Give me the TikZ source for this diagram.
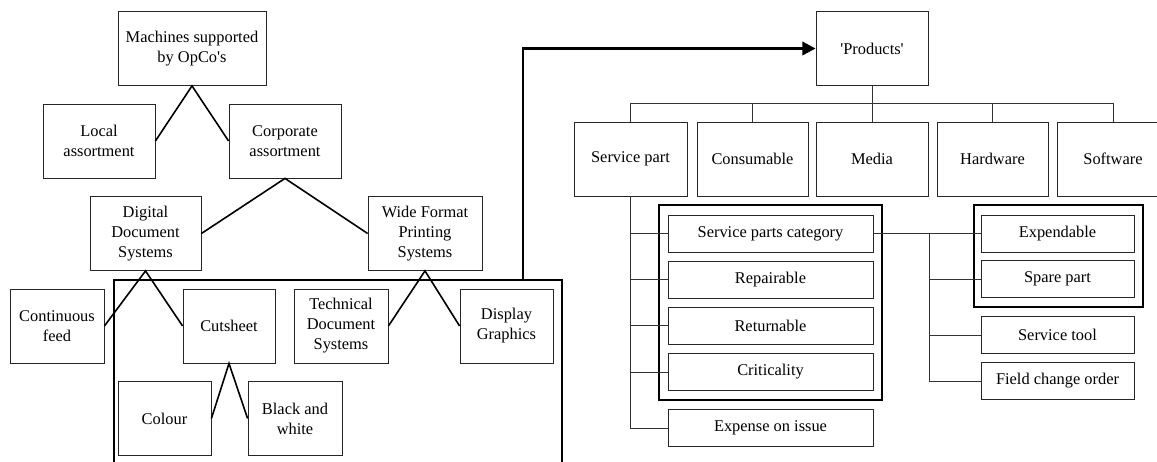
\documentclass[tikz,border=0pt]{standalone}
\usepackage{fontspec}
\setmainfont{Liberation Serif}
\usetikzlibrary{arrows.meta}
\tikzset{
  box/.style={draw=black!85, line width=0.6pt, inner sep=0pt, align=center,
    font=\fontsize{12.3}{15}\selectfont},
  big/.style={box, minimum width=#1*0.75pt, minimum height=55.5pt},
  slim/.style={box, minimum width=#1*0.75pt, minimum height=27.75pt},
  branch/.style={line width=1.2pt, black},
  tree/.style={line width=0.6pt, black!80},
  frame/.style={line width=2.2pt, black},
}
\begin{document}
\begin{tikzpicture}[x=0.75pt, y=-0.75pt]
\useasboundingbox (0,0) rectangle (1157,461);

% --- machine hierarchy (left) ---
\node[big=148] (mach) at (192,48.5) {Machines supported\\by OpCo\textquotesingle s};
\node[big=112] (local) at (99,141) {Local\\assortment};
\node[big=112] (corp) at (285,141) {Corporate\\assortment};
\node[big=111] (dds) at (145.5,233.5) {Digital\\Document\\Systems};
\node[big=114] (wfps) at (425,233.5) {Wide Format\\Printing\\Systems};
\node[big=94] (cont) at (57,326) {Continuous\\feed};
\node[big=92] (cut) at (229,326) {Cutsheet};
\node[big=94] (tds) at (341,326) {Technical\\Document\\Systems};
\node[big=93] (disp) at (506.5,326) {Display\\Graphics};
\node[big=93] (colour) at (164.5,418.5) {Colour};
\node[big=94] (bw) at (295,418.5) {Black and\\white};

\draw[branch] (local.east) -- (mach.south) -- (corp.west);
\draw[branch] (dds.east) -- (corp.south) -- (wfps.west);
\draw[branch] (cont.east) -- (dds.south) -- (cut.west);
\draw[branch] (tds.east) -- (wfps.south) -- (disp.west);
\draw[branch] (colour.east) -- (cut.south) -- (bw.west);

% open frame around the selected machines and the link to the products
\coordinate (frameL) at (114,475);
\coordinate (frameR) at (562,475);
\coordinate (linkfoot) at (523,280);
\draw[frame] (frameL) |- (frameR |- linkfoot) -- (frameR);

% --- product hierarchy (right) ---
\node[big=112] (prod) at (872,48.5) {\textquotesingle Products\textquotesingle};
\draw[frame, -{Triangle[length=10pt, width=10pt]}] (linkfoot) |- (prod.west);

\node[big=113] (spart) at (630.5,159) {Service part};
\node[big=111] (cons) at (752.5,159) {Consumable};
\node[big=112] (media) at (872,159) {Media};
\node[big=111] (hw) at (992.5,159) {Hardware};
\node[big=112] (sw) at (1113,159) {Software};

\coordinate (bus) at (630.5,103);
\draw[tree] (spart.north) -- (bus) -| (sw.north);
\draw[tree] (prod.south) -- (media.north);
\draw[tree] (cons.north) -- (cons.north |- bus);
\draw[tree] (hw.north) -- (hw.north |- bus);

\node[slim=205] (spc) at (770.5,233.5) {Service parts category};
\node[slim=205] (rep) at (770.5,279.5) {Repairable};
\node[slim=205] (ret) at (770.5,325.5) {Returnable};
\node[slim=205] (crit) at (770.5,372) {Criticality};
\node[slim=205] (exp) at (770.5,428) {Expense on issue};
\draw[frame] (659,205) rectangle (882,400);

\draw[tree] (spart.south) |- (exp.west);
\draw[tree] (spart.south |- spc.west) -- (spc.west);
\draw[tree] (spart.south |- rep.west) -- (rep.west);
\draw[tree] (spart.south |- ret.west) -- (ret.west);
\draw[tree] (spart.south |- crit.west) -- (crit.west);

\node[slim=153] (expd) at (1057.5,233.5) {Expendable};
\node[slim=153] (spare) at (1057.5,279) {Spare part};
\node[slim=153] (stool) at (1057.5,335) {Service tool};
\node[slim=153] (fco) at (1057.5,381) {Field change order};
\draw[frame] (974,205) rectangle (1143,307);

\coordinate (trunk) at (929,233.5);
\draw[tree] (spc.east) -- (expd.west);
\draw[tree] (trunk) |- (fco.west);
\draw[tree] (trunk |- spare.west) -- (spare.west);
\draw[tree] (trunk |- stool.west) -- (stool.west);
\end{tikzpicture}
\end{document}
